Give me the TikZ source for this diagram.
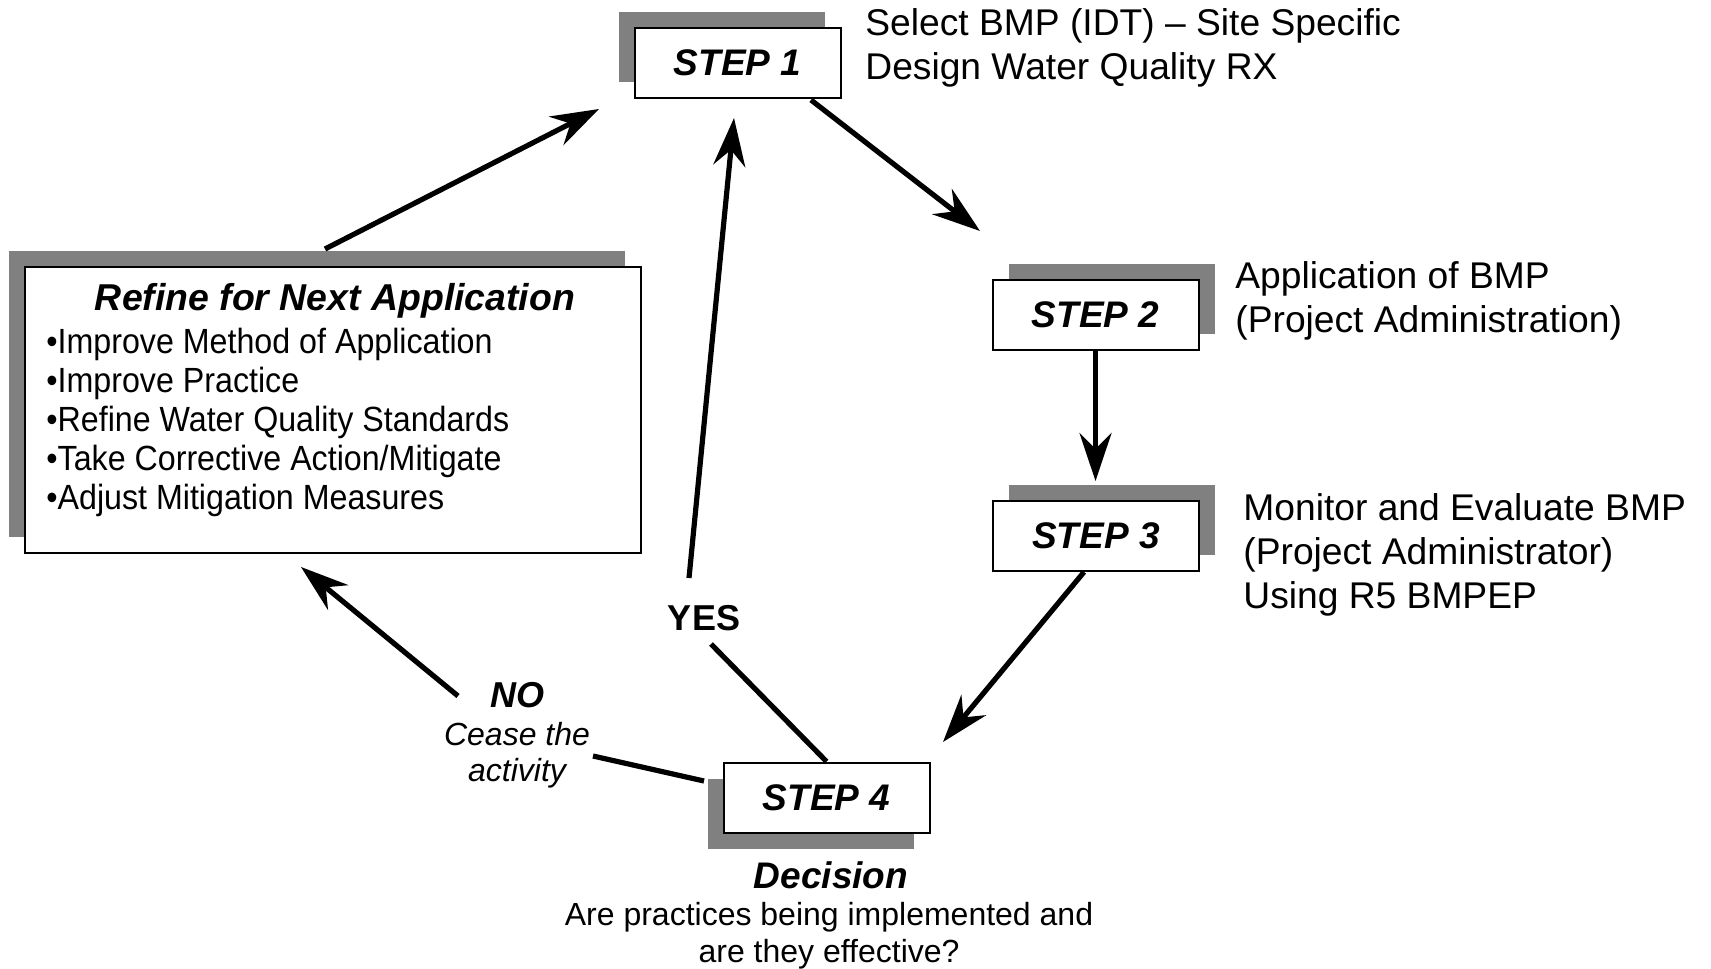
\documentclass[tikz,border=0pt]{standalone}
\usepackage{fontspec}
\setmainfont{Liberation Sans}
\newfontfamily\narrowfont[FakeStretch=0.92]{Liberation Sans}
\usetikzlibrary{arrows.meta,shadows}
\definecolor{shadowgray}{RGB}{128,128,128}
\tikzset{
  stepbox/.style={draw,fill=white,line width=1pt,minimum width=103pt,minimum height=35pt,inner sep=0pt,
    font=\fontsize{18.5}{22}\selectfont\bfseries\itshape},
  shade ul/.style={drop shadow={shadow xshift=-8pt,shadow yshift=8pt,fill=shadowgray,opacity=1}},
  shade ur/.style={drop shadow={shadow xshift=8pt,shadow yshift=8pt,fill=shadowgray,opacity=1}},
  shade dl/.style={drop shadow={shadow xshift=-8pt,shadow yshift=-8pt,fill=shadowgray,opacity=1}},
  note/.style={anchor=north west,align=left,inner sep=0pt,font=\fontsize{18.6}{22}\selectfont},
  flow/.style={line width=2.6pt,-{Stealth[length=24pt,width=16pt,inset=8pt]}},
  link/.style={line width=2.6pt},
}
\begin{document}
\begin{tikzpicture}[x=0.5pt,y=-0.5pt]
\useasboundingbox (0,0) rectangle (1711,968);
% the four steps
\node [stepbox,shade ul] (s1) at (737.5,63) {STEP 1};
\node [stepbox,shade ur] (s2) at (1095.5,314.5) {STEP 2};
\node [stepbox,shade ur] (s3) at (1096,536) {STEP 3};
\node [stepbox,shade dl] (s4) at (826.5,797.5) {STEP 4};
% refine box
\node [draw,fill=white,line width=1pt,minimum width=308pt,minimum height=143pt,shade ul] (refine) at (333,410) {};
\node [font=\fontsize{18.7}{22}\selectfont\bfseries\itshape] (reftitle) at (335,301) {Refine for Next Application};
\foreach \txt [count=\i] in {Improve Method of Application,Improve Practice,Refine Water Quality Standards,
    Take Corrective Action/Mitigate,Adjust Mitigation Measures}
  \node [anchor=base west,inner sep=0pt,font=\narrowfont\fontsize{17.5}{19.5}\selectfont] (item\i) at (46,{353+39*(\i-1)}) {\textbullet\txt};
% notes beside the steps
\node [note] (n1) at (865,8) {Select BMP (IDT) – Site Specific\\Design Water Quality RX};
\node [note] (n2) at (1235,261) {Application of BMP\\(Project Administration)};
\node [note] (n3) at (1243,493) {Monitor and Evaluate BMP\\(Project Administrator)\\Using R5 BMPEP};
\node [font=\fontsize{18.5}{22}\selectfont\bfseries\itshape] (dec) at (831,875) {Decision};
\node [align=center,anchor=north,inner sep=0pt,font=\fontsize{16}{18.5}\selectfont] (quest) at (829,902) {Are practices being implemented and\\are they effective?};
\node [font=\fontsize{18}{22}\selectfont\bfseries] (yes) at (704,618) {YES};
\node [font=\fontsize{18}{22}\selectfont\bfseries\itshape] (no) at (517,695) {NO};
\node [align=center,anchor=north,inner sep=0pt,font=\fontsize{16}{18}\selectfont\itshape] (cease) at (517,722) {Cease the\\activity};
% connector ends
\coordinate (refout) at (325,249);
\coordinate (s1in) at (599,109);
\coordinate (s1out) at (811,100);
\coordinate (s2in) at (980,231);
\coordinate (s3in) at (1095.5,481);
\coordinate (s3out) at (1084,572);
\coordinate (s4in) at (943,742);
\coordinate (yeslow) at (711,644);
\coordinate (yesup) at (689,578);
\coordinate (s1yes) at (734,118);
\coordinate (s4no) at (704,781);
\coordinate (nolow) at (593,756);
\coordinate (noup) at (458,696);
\coordinate (refin) at (301,567);
\draw [flow] (refout) -- (s1in);
\draw [flow] (s1out) -- (s2in);
\draw [flow] (s2.south) -- (s3in);
\draw [flow] (s3out) -- (s4in);
\draw [link] (s4.north) -- (yeslow);
\draw [flow] (yesup) -- (s1yes);
\draw [link] (s4no) -- (nolow);
\draw [flow] (noup) -- (refin);
\end{tikzpicture}
\end{document}
